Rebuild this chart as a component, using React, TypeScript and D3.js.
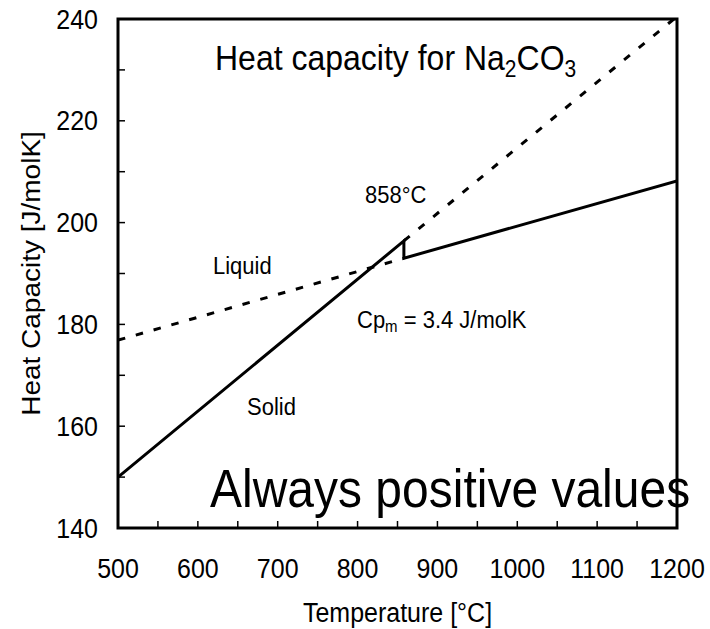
import React from "react";
import * as d3 from "d3";

// Heat capacity of Na2CO3 around its melting point (858 °C)
const solidTemp = [500, 858];
const solidCp = [150.0, 196.4];
const solidExtTemp = [858, 1200];
const solidExtCp = [196.4, 240.5];
const liquidExtTemp = [500, 858];
const liquidExtCp = [176.9, 193.0];
const liquidTemp = [858, 1200];
const liquidCp = [193.0, 208.2];

const xTicks = [500, 600, 700, 800, 900, 1000, 1100, 1200];
const xMinorTicks = [550, 650, 750, 850, 950, 1050, 1150];
const yTicks = [140, 160, 180, 200, 220, 240];
const yMinorTicks = [150, 170, 190, 210, 230];

const W = 710;
const H = 629;
const left = 118;
const right = 677;
const top = 19;
const bottom = 528;
const SY = 1.12; // vertical stretch of lettering
const FONT = "'Liberation Sans', Arial, Helvetica, sans-serif";

type Pt = [number, number];

export default function App() {
  const x = d3.scaleLinear().domain([500, 1200]).range([left, right]);
  const y = d3.scaleLinear().domain([140, 240]).range([bottom, top]);
  const line = d3
    .line<Pt>()
    .x((d) => x(d[0]))
    .y((d) => y(d[1]));

  const zip = (t: number[], v: number[]): Pt[] => t.map((d, i) => [d, v[i]]);

  // solid curve: solid phase up to melting, jump, then liquid phase
  const mainPath: Pt[] = [
    ...zip(solidTemp, solidCp),
    ...zip(liquidTemp, liquidCp),
  ];

  const txt = (
    tx: number,
    ty: number,
    size: number,
    content: React.ReactNode,
    anchor: "start" | "middle" | "end" = "start",
    key?: string
  ) => (
    <text
      key={key}
      transform={`translate(${tx},${ty}) scale(1,${SY})`}
      fontSize={size}
      textAnchor={anchor}
      fontFamily={FONT}
      fill="#000"
    >
      {content}
    </text>
  );

  const tickLen = 7;

  return (
    <svg
      width={W}
      height={H}
      style={{ position: "absolute", left: 0, top: 0, background: "#fff" }}
    >
      <defs>
        <clipPath id="plotClip">
          <rect x={left} y={top} width={right - left} height={bottom - top} />
        </clipPath>
      </defs>

      <g clipPath="url(#plotClip)" fill="none" stroke="#000" strokeWidth={3}>
        <path
          d={line(zip(liquidExtTemp, liquidExtCp)) || ""}
          strokeDasharray="7.5,11"
        />
        <path
          d={line(zip(solidExtTemp, solidExtCp)) || ""}
          strokeDasharray="7.5,11.5"
        />
        <path d={line(mainPath) || ""} strokeLinejoin="miter" />
      </g>

      {/* inner ticks */}
      <g stroke="#000" strokeWidth={1.5}>
        {[...xTicks, ...xMinorTicks].map((t) => (
          <line key={"xt" + t} x1={x(t)} x2={x(t)} y1={bottom} y2={bottom - tickLen} />
        ))}
        {[...yTicks, ...yMinorTicks].map((t) => (
          <line key={"yt" + t} x1={left} x2={left + tickLen} y1={y(t)} y2={y(t)} />
        ))}
      </g>

      {/* frame */}
      <rect
        x={left}
        y={top}
        width={right - left}
        height={bottom - top}
        fill="none"
        stroke="#000"
        strokeWidth={3}
      />

      {/* tick labels */}
      {xTicks.map((t) => txt(x(t), 578, 25, String(t), "middle", "xl" + t))}
      {yTicks.map((t) => txt(98, y(t) + 9.5, 25, String(t), "end", "yl" + t))}

      {/* axis titles */}
      {txt((left + right) / 2, 622, 25, "Temperature [°C]", "middle")}
      <text
        transform={`translate(40,${(top + bottom) / 2}) scale(1,${SY}) rotate(-90)`}
        fontSize={25}
        textAnchor="middle"
        fontFamily={FONT}
        fill="#000"
      >
        Heat Capacity [J/molK]
      </text>

      {/* title */}
      {txt(
        215,
        70,
        32,
        <>
          Heat capacity for Na
          <tspan fontSize={21} dy={6}>2</tspan>
          <tspan dy={-6}>CO</tspan>
          <tspan fontSize={21} dy={6}>3</tspan>
        </>
      )}

      {/* annotations */}
      {txt(365, 203, 22, "858°C")}
      {txt(213, 274, 22, "Liquid")}
      {txt(247, 415, 22, "Solid")}
      {txt(
        357,
        328,
        22,
        <>
          Cp
          <tspan fontSize={15} dy={4}>m</tspan>
          <tspan dy={-4}> = 3.4 J/molK</tspan>
        </>
      )}
      {txt(210, 507, 48, "Always positive values")}
    </svg>
  );
}
